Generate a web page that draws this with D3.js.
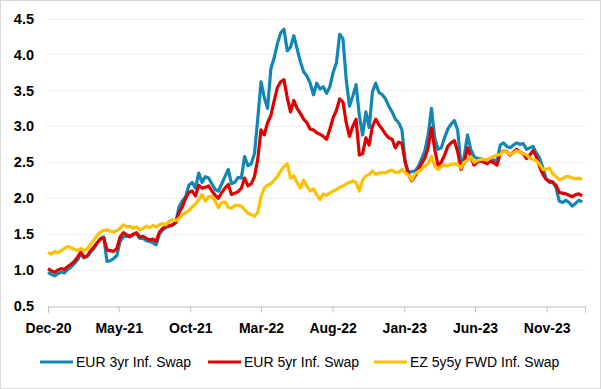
<!DOCTYPE html>
<html>
<head>
<meta charset="utf-8">
<script src="https://cdn.jsdelivr.net/npm/d3@7"></script>
<style>
  body { margin: 0; background: #fff; }
  svg text { font-family: "Liberation Sans", Arial, sans-serif; fill: #000; }
</style>
</head>
<body>
<svg id="chart" width="601" height="389"></svg>
<script>
// weekly observations, first week starting 1 Dec 2020
const startDate = new Date(2020, 11, 1);

const eur3y = [
  0.97, 0.94, 0.92, 0.95, 0.97, 0.96, 1.01, 1.04, 1.09, 1.14,
  1.22, 1.17, 1.19, 1.25, 1.30, 1.37, 1.44, 1.46, 1.12, 1.13,
  1.16, 1.20, 1.40, 1.46, 1.47, 1.46, 1.49, 1.51, 1.44, 1.44,
  1.41, 1.40, 1.38, 1.35, 1.50, 1.56, 1.59, 1.61, 1.62, 1.67,
  1.88, 1.96, 2.02, 2.18, 2.22, 2.14, 2.35, 2.22, 2.30, 2.28,
  2.20, 2.12, 2.10, 2.20, 2.30, 2.40, 2.20, 2.22, 2.29, 2.28,
  2.58, 2.45, 2.48, 2.62, 3.10, 3.62, 3.40, 3.25, 3.80, 3.95,
  4.15, 4.30, 4.35, 4.05, 4.10, 4.26, 4.08, 3.90, 3.76, 3.70,
  3.60, 3.44, 3.60, 3.52, 3.55, 3.46, 3.55, 3.75, 3.88, 4.28,
  4.22, 3.65, 3.28, 3.42, 3.58, 3.15, 2.88, 3.20, 2.98, 3.48,
  3.60, 3.47, 3.44, 3.38, 3.28, 3.20, 3.10, 3.05, 2.95, 2.50,
  2.36, 2.37, 2.38, 2.44, 2.55, 2.66, 2.88, 3.25, 2.84, 2.68,
  2.70, 2.84, 2.96, 3.03, 3.08, 2.95, 2.46, 2.58, 2.88, 2.68,
  2.58, 2.55, 2.55, 2.52, 2.50, 2.55, 2.53, 2.52, 2.74, 2.77,
  2.72, 2.70, 2.74, 2.77, 2.75, 2.76, 2.68, 2.70, 2.72, 2.63,
  2.56, 2.42, 2.27, 2.22, 2.23, 2.15, 1.96, 1.94, 1.97, 1.94,
  1.89, 1.93, 1.97, 1.95
];

const eur5y = [
  1.02, 0.99, 0.97, 1.00, 1.02, 1.01, 1.05, 1.08, 1.12, 1.18,
  1.25, 1.18, 1.20, 1.27, 1.32, 1.38, 1.43, 1.45, 1.28, 1.27,
  1.26, 1.30, 1.46, 1.52, 1.49, 1.47, 1.50, 1.52, 1.46, 1.47,
  1.44, 1.42, 1.43, 1.40, 1.53, 1.58, 1.61, 1.62, 1.63, 1.66,
  1.80, 1.88, 2.00, 2.08, 2.10, 2.03, 2.18, 2.14, 2.15, 2.17,
  2.10, 2.04, 2.00, 2.08, 2.14, 2.19, 2.05, 2.07, 2.09, 2.14,
  2.28, 2.17, 2.20, 2.30, 2.54, 2.95, 2.88, 3.05, 3.15, 3.35,
  3.54, 3.62, 3.65, 3.40, 3.20, 3.36, 3.25, 3.18, 3.10, 3.05,
  2.96, 2.95, 2.91, 2.89, 2.86, 2.82, 2.96, 3.12, 3.22, 3.38,
  3.34, 3.05, 2.86, 3.00, 3.10, 2.60, 2.62, 2.84, 2.74, 3.00,
  3.10, 3.02, 2.96, 2.89, 2.84, 2.82, 2.70, 2.78, 2.76, 2.50,
  2.33, 2.24, 2.31, 2.40, 2.48, 2.56, 2.70, 2.98, 2.68, 2.46,
  2.50, 2.60, 2.72, 2.77, 2.80, 2.65, 2.40, 2.50, 2.70, 2.58,
  2.46, 2.50, 2.52, 2.50, 2.48, 2.52, 2.49, 2.46, 2.62, 2.66,
  2.65, 2.60, 2.64, 2.68, 2.64, 2.62, 2.55, 2.60, 2.66, 2.58,
  2.44, 2.33, 2.26, 2.24, 2.22, 2.18, 2.08, 2.07, 2.06, 2.04,
  2.02, 2.05, 2.06, 2.03
];

const ez5y5y = [
  1.25, 1.22, 1.26, 1.24, 1.27, 1.30, 1.33, 1.31, 1.29, 1.27,
  1.30, 1.27, 1.30, 1.36, 1.42, 1.48, 1.53, 1.55, 1.56, 1.54,
  1.53, 1.55, 1.58, 1.63, 1.60, 1.61, 1.58, 1.60, 1.56, 1.58,
  1.61, 1.59, 1.62, 1.60, 1.63, 1.65, 1.63, 1.68, 1.70, 1.69,
  1.72, 1.77, 1.80, 1.83, 1.88, 1.92, 1.98, 2.05, 1.96, 2.02,
  2.03, 1.96, 1.87, 1.94, 1.95, 1.87, 1.86, 1.90, 1.90, 1.89,
  1.84, 1.79, 1.77, 1.75, 1.80, 2.02, 2.14, 2.18, 2.20, 2.25,
  2.30, 2.38, 2.44, 2.48, 2.28, 2.31, 2.22, 2.14, 2.25, 2.17,
  2.10, 2.13, 2.05, 1.98, 2.06, 2.04, 2.07, 2.10, 2.12, 2.15,
  2.17, 2.20, 2.22, 2.24, 2.22, 2.10, 2.25, 2.31, 2.33, 2.38,
  2.33, 2.35, 2.36, 2.35, 2.38, 2.39, 2.36, 2.36, 2.40, 2.35,
  2.32, 2.25, 2.34, 2.37, 2.40, 2.45, 2.48, 2.58, 2.45, 2.40,
  2.44, 2.46, 2.45, 2.47, 2.48, 2.47, 2.42, 2.50, 2.53, 2.58,
  2.50, 2.52, 2.54, 2.54, 2.53, 2.56, 2.58, 2.60, 2.61, 2.66,
  2.64, 2.61, 2.63, 2.66, 2.64, 2.62, 2.60, 2.56, 2.54, 2.52,
  2.47, 2.40, 2.40, 2.42, 2.34, 2.30, 2.26, 2.27, 2.30, 2.30,
  2.28, 2.27, 2.28, 2.26
];

const tickLabels = ["Dec-20", "May-21", "Oct-21", "Mar-22", "Aug-22", "Jan-23", "Jun-23", "Nov-23"];
const yTicks = [0.5, 1.0, 1.5, 2.0, 2.5, 3.0, 3.5, 4.0, 4.5];

const seriesNames = ["EUR 3yr Inf. Swap", "EUR 5yr Inf. Swap", "EZ 5y5y FWD Inf. Swap"];
const seriesColors = ["#1286b4", "#e00000", "#ffc000"];
const seriesValues = [eur3y, eur5y, ez5y5y];

const svg = d3.select("#chart");
const W = 601, H = 389;

svg.append("rect")
  .attr("x", 0.5).attr("y", 0.5)
  .attr("width", W - 1).attr("height", H - 1)
  .attr("fill", "#fff").attr("stroke", "#d9d9d9");

const plotLeft = 48, plotRight = 585, plotTop = 18.5, plotBottom = 306;

const parseTick = d3.timeParse("%b-%y");
const x = d3.scaleTime()
  .domain([startDate, new Date(2024, 0, 22)])
  .range([plotLeft, plotRight]);

const y = d3.scaleLinear()
  .domain([0.5, 4.5])
  .range([plotBottom, plotTop]);

// gridlines
svg.append("g")
  .selectAll("line")
  .data(yTicks.slice(1))
  .join("line")
  .attr("x1", plotLeft).attr("x2", plotRight)
  .attr("y1", d => Math.round(y(d)) + 0.5)
  .attr("y2", d => Math.round(y(d)) + 0.5)
  .attr("stroke", "#ededed");

// y labels
const yAxis = svg.append("g")
  .attr("transform", `translate(${plotLeft - 14},0)`)
  .call(d3.axisLeft(y).tickValues(yTicks).tickFormat(d3.format(".1f")).tickSize(0));
yAxis.select(".domain").remove();
yAxis.selectAll("text")
  .attr("x", 0)
  .style("font-size", "14.5px")
  .style("font-weight", "bold");

// x axis
const xAxis = svg.append("g")
  .attr("transform", `translate(0,${Math.round(plotBottom) + 0.5})`)
  .call(d3.axisBottom(x)
    .tickValues(tickLabels.map(parseTick).concat([x.domain()[1]]))
    .tickFormat((d, i) => tickLabels[i] || "")
    .tickSizeOuter(0)
    .tickSize(6));
xAxis.select(".domain").attr("stroke", "#bfbfbf");
xAxis.selectAll(".tick line").attr("stroke", "#bfbfbf");
xAxis.selectAll("text")
  .attr("y", 16.5)
  .style("font-size", "14px")
  .style("font-weight", "bold");

// lines
const line = d3.line()
  .x((d, i) => x(d3.timeDay.offset(startDate, 7 * i)))
  .y(d => y(d));

svg.append("g")
  .selectAll("path")
  .data(seriesValues)
  .join("path")
  .attr("d", d => line(d))
  .attr("fill", "none")
  .attr("stroke", (d, i) => seriesColors[i])
  .attr("stroke-width", 3.2)
  .attr("stroke-linejoin", "round");

// legend
const legendX = [40, 208, 374];
const legendY = 362;
const lg = svg.append("g")
  .selectAll("g")
  .data(seriesNames)
  .join("g")
  .attr("transform", (d, i) => `translate(${legendX[i]},${legendY})`);
lg.append("line")
  .attr("x1", 0).attr("x2", 33)
  .attr("stroke", (d, i) => seriesColors[i])
  .attr("stroke-width", 3);
lg.append("text")
  .attr("x", 36)
  .attr("dy", "0.36em")
  .style("font-size", "14px")
  .text(d => d);
</script>
</body>
</html>
